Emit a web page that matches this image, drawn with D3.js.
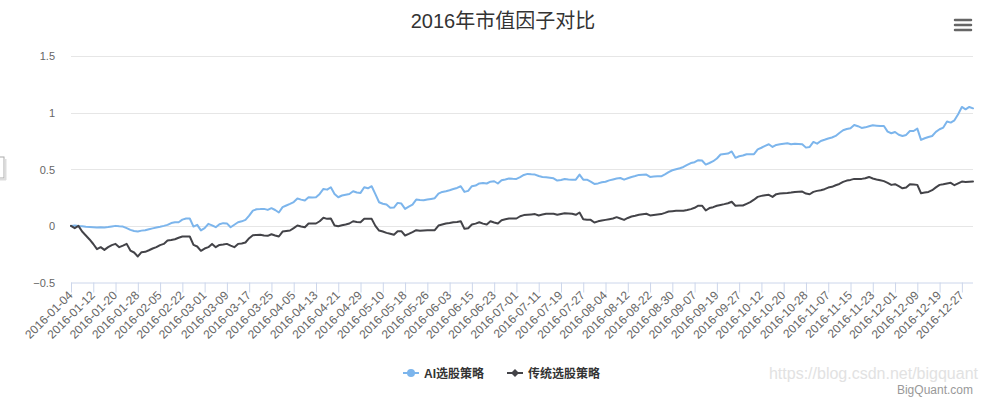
<!DOCTYPE html>
<html><head><meta charset="utf-8">
<script src="https://cdn.jsdelivr.net/npm/d3@7"></script>
<style>
body{margin:0;background:#fff;}
svg{display:block;font-family:"Liberation Sans",Arial,"Noto Sans CJK SC",sans-serif;}
</style>
</head><body>
<svg id="chart" width="987" height="400"></svg>
<script>
const chartTitle = "2016年市值因子对比";
const seriesNames = ["AI选股策略", "传统选股策略"];
const seriesColors = ["#7cb5ec", "#434348"];
const yTicks = [-0.5, 0, 0.5, 1, 1.5];
const yTickLabels = ["−0.5", "0", "0.5", "1", "1.5"];
const creditText = "BigQuant.com";
const watermarkText = "https://blog.csdn.net/bigquant";

const dates = [
"2016-01-04","2016-01-05","2016-01-06","2016-01-07","2016-01-08","2016-01-11","2016-01-12","2016-01-13","2016-01-14","2016-01-15",
"2016-01-18","2016-01-19","2016-01-20","2016-01-21","2016-01-22","2016-01-25","2016-01-26","2016-01-27","2016-01-28","2016-01-29",
"2016-02-01","2016-02-02","2016-02-03","2016-02-04","2016-02-05","2016-02-15","2016-02-16","2016-02-17","2016-02-18","2016-02-19",
"2016-02-22","2016-02-23","2016-02-24","2016-02-25","2016-02-26","2016-02-29","2016-03-01","2016-03-02","2016-03-03","2016-03-04",
"2016-03-07","2016-03-08","2016-03-09","2016-03-10","2016-03-11","2016-03-14","2016-03-15","2016-03-16","2016-03-17","2016-03-18",
"2016-03-21","2016-03-22","2016-03-23","2016-03-24","2016-03-25","2016-03-28","2016-03-29","2016-03-30","2016-03-31","2016-04-01",
"2016-04-05","2016-04-06","2016-04-07","2016-04-08","2016-04-11","2016-04-12","2016-04-13","2016-04-14","2016-04-15","2016-04-18",
"2016-04-19","2016-04-20","2016-04-21","2016-04-22","2016-04-25","2016-04-26","2016-04-27","2016-04-28","2016-04-29","2016-05-03",
"2016-05-04","2016-05-05","2016-05-06","2016-05-09","2016-05-10","2016-05-11","2016-05-12","2016-05-13","2016-05-16","2016-05-17",
"2016-05-18","2016-05-19","2016-05-20","2016-05-23","2016-05-24","2016-05-25","2016-05-26","2016-05-27","2016-05-30","2016-05-31",
"2016-06-01","2016-06-02","2016-06-03","2016-06-06","2016-06-07","2016-06-08","2016-06-13","2016-06-14","2016-06-15","2016-06-16",
"2016-06-17","2016-06-20","2016-06-21","2016-06-22","2016-06-23","2016-06-24","2016-06-27","2016-06-28","2016-06-29","2016-06-30",
"2016-07-01","2016-07-04","2016-07-05","2016-07-06","2016-07-07","2016-07-08","2016-07-11","2016-07-12","2016-07-13","2016-07-14",
"2016-07-15","2016-07-18","2016-07-19","2016-07-20","2016-07-21","2016-07-22","2016-07-25","2016-07-26","2016-07-27","2016-07-28",
"2016-07-29","2016-08-01","2016-08-02","2016-08-03","2016-08-04","2016-08-05","2016-08-08","2016-08-09","2016-08-10","2016-08-11",
"2016-08-12","2016-08-15","2016-08-16","2016-08-17","2016-08-18","2016-08-19","2016-08-22","2016-08-23","2016-08-24","2016-08-25",
"2016-08-26","2016-08-29","2016-08-30","2016-08-31","2016-09-01","2016-09-02","2016-09-05","2016-09-06","2016-09-07","2016-09-08",
"2016-09-09","2016-09-12","2016-09-13","2016-09-14","2016-09-19","2016-09-20","2016-09-21","2016-09-22","2016-09-23","2016-09-26",
"2016-09-27","2016-09-28","2016-09-29","2016-09-30","2016-10-10","2016-10-11","2016-10-12","2016-10-13","2016-10-14","2016-10-17",
"2016-10-18","2016-10-19","2016-10-20","2016-10-21","2016-10-24","2016-10-25","2016-10-26","2016-10-27","2016-10-28","2016-10-31",
"2016-11-01","2016-11-02","2016-11-03","2016-11-04","2016-11-07","2016-11-08","2016-11-09","2016-11-10","2016-11-11","2016-11-14",
"2016-11-15","2016-11-16","2016-11-17","2016-11-18","2016-11-21","2016-11-22","2016-11-23","2016-11-24","2016-11-25","2016-11-28",
"2016-11-29","2016-11-30","2016-12-01","2016-12-02","2016-12-05","2016-12-06","2016-12-07","2016-12-08","2016-12-09","2016-12-12",
"2016-12-13","2016-12-14","2016-12-15","2016-12-16","2016-12-19","2016-12-20","2016-12-21","2016-12-22","2016-12-23","2016-12-26",
"2016-12-27","2016-12-28","2016-12-29","2016-12-30"
];

const aiValues = [
0, 0.004, -0.002, -0.004, -0.008, -0.01, -0.012, -0.015, -0.013, -0.014,
-0.01, -0.005, 0.0, -0.004, -0.006, -0.02, -0.035, -0.045, -0.05, -0.042,
-0.038, -0.03, -0.022, -0.015, -0.008, 0.0, 0.009, 0.025, 0.032, 0.032,
0.055, 0.065, 0.065, -0.006, 0.009, -0.04, -0.02, 0.018, 0.005, -0.012,
0.015, 0.024, 0.022, -0.012, 0.01, 0.032, 0.04, 0.053, 0.09, 0.135,
0.147, 0.148, 0.15, 0.141, 0.156, 0.14, 0.118, 0.165, 0.18, 0.194,
0.21, 0.241, 0.232, 0.224, 0.253, 0.25, 0.253, 0.282, 0.326, 0.32,
0.341, 0.282, 0.253, 0.268, 0.275, 0.282, 0.306, 0.295, 0.291, 0.341,
0.332, 0.35, 0.28, 0.209, 0.195, 0.188, 0.159, 0.162, 0.203, 0.197,
0.15, 0.17, 0.188, 0.232, 0.228, 0.226, 0.232, 0.238, 0.244, 0.285,
0.30, 0.306, 0.315, 0.326, 0.335, 0.35, 0.30, 0.309, 0.35, 0.356,
0.375, 0.379, 0.374, 0.39, 0.394, 0.374, 0.403, 0.41, 0.418, 0.416,
0.415, 0.43, 0.45, 0.459, 0.455, 0.453, 0.44, 0.432, 0.429, 0.425,
0.42, 0.40, 0.405, 0.414, 0.41, 0.408, 0.408, 0.453, 0.408, 0.408,
0.39, 0.37, 0.375, 0.385, 0.39, 0.402, 0.41, 0.418, 0.423, 0.408,
0.42, 0.432, 0.44, 0.45, 0.452, 0.453, 0.432, 0.435, 0.438, 0.438,
0.455, 0.475, 0.491, 0.5, 0.509, 0.52, 0.538, 0.555, 0.562, 0.58,
0.577, 0.541, 0.555, 0.571, 0.595, 0.63, 0.635, 0.639, 0.657, 0.601,
0.615, 0.621, 0.633, 0.633, 0.633, 0.676, 0.69, 0.706, 0.721, 0.697,
0.715, 0.721, 0.725, 0.729, 0.721, 0.726, 0.724, 0.721, 0.691, 0.697,
0.741, 0.726, 0.75, 0.76, 0.771, 0.78, 0.794, 0.82, 0.844, 0.855,
0.862, 0.891, 0.88, 0.865, 0.87, 0.88, 0.888, 0.885, 0.882, 0.882,
0.832, 0.818, 0.829, 0.805, 0.794, 0.803, 0.838, 0.838, 0.859, 0.759,
0.774, 0.785, 0.794, 0.83, 0.853, 0.868, 0.921, 0.912, 0.932, 0.985,
1.05, 1.029, 1.05, 1.038
];

const tradValues = [
0, -0.02, 0.0, -0.05, -0.085, -0.12, -0.16, -0.206, -0.188, -0.212,
-0.188, -0.17, -0.159, -0.188, -0.175, -0.159, -0.218, -0.235, -0.27, -0.232,
-0.229, -0.215, -0.2, -0.188, -0.17, -0.159, -0.13, -0.125, -0.118, -0.105,
-0.094, -0.094, -0.094, -0.168, -0.182, -0.22, -0.2, -0.188, -0.159, -0.188,
-0.168, -0.165, -0.159, -0.175, -0.188, -0.159, -0.155, -0.147, -0.109, -0.082,
-0.08, -0.079, -0.085, -0.088, -0.074, -0.085, -0.094, -0.05, -0.045, -0.041,
-0.02, 0.003, -0.005, -0.012, 0.021, 0.021, 0.021, 0.041, 0.071, 0.062,
0.065, 0.003, -0.003, 0.005, 0.012, 0.021, 0.041, 0.035, 0.032, 0.062,
0.062, 0.062, 0.0, -0.041, -0.05, -0.062, -0.07, -0.079, -0.047, -0.047,
-0.085, -0.071, -0.055, -0.038, -0.044, -0.04, -0.038, -0.038, -0.038, 0.003,
0.012, 0.021, 0.025, 0.032, 0.035, 0.041, -0.026, -0.021, 0.012, 0.02,
0.032, 0.02, 0.012, 0.041, 0.03, 0.021, 0.05, 0.058, 0.065, 0.065,
0.065, 0.085, 0.095, 0.098, 0.101, 0.104, 0.092, 0.1, 0.107, 0.107,
0.107, 0.098, 0.105, 0.112, 0.11, 0.107, 0.098, 0.118, 0.059, 0.055,
0.053, 0.03, 0.04, 0.047, 0.053, 0.059, 0.065, 0.077, 0.065, 0.053,
0.07, 0.083, 0.09, 0.098, 0.103, 0.107, 0.092, 0.097, 0.101, 0.104,
0.115, 0.127, 0.13, 0.133, 0.133, 0.133, 0.14, 0.148, 0.16, 0.178,
0.178, 0.136, 0.157, 0.165, 0.178, 0.185, 0.192, 0.2, 0.213, 0.178,
0.18, 0.18, 0.195, 0.21, 0.231, 0.256, 0.265, 0.271, 0.274, 0.256,
0.28, 0.285, 0.288, 0.29, 0.294, 0.30, 0.302, 0.303, 0.285, 0.279,
0.3, 0.309, 0.315, 0.324, 0.338, 0.345, 0.359, 0.37, 0.388, 0.4,
0.406, 0.415, 0.415, 0.415, 0.42, 0.432, 0.418, 0.41, 0.403, 0.395,
0.38, 0.362, 0.368, 0.35, 0.332, 0.338, 0.368, 0.365, 0.362, 0.288,
0.294, 0.3, 0.315, 0.34, 0.362, 0.368, 0.375, 0.38, 0.359, 0.375,
0.391, 0.388, 0.39, 0.391
];

const svg = d3.select("#chart");
const plot = {left: 71, right: 973, top: 56, bottom: 282.5};

const x = d3.scaleLinear().domain([0, dates.length - 1]).range([plot.left, plot.right]);
const y = d3.scaleLinear().domain([-0.5, 1.5]).range([plot.bottom, plot.top]);

// left artifact (edge of a popup box)
svg.append("rect").attr("x", -6).attr("y", 157).attr("width", 10).attr("height", 21)
  .attr("fill", "#fff").attr("stroke", "#aaa").attr("stroke-width", 1);
svg.append("line").attr("x1", 5.5).attr("x2", 5.5).attr("y1", 159).attr("y2", 180)
  .attr("stroke", "#ddd").attr("stroke-width", 2);
svg.append("line").attr("x1", 0).attr("x2", 6).attr("y1", 179.5).attr("y2", 179.5)
  .attr("stroke", "#ddd").attr("stroke-width", 2);

// gridlines
svg.append("g").selectAll("line").data(yTicks.filter(v => v !== -0.5)).join("line")
  .attr("x1", plot.left).attr("x2", plot.right)
  .attr("y1", d => Math.round(y(d)) + 0.5).attr("y2", d => Math.round(y(d)) + 0.5)
  .attr("stroke", "#e6e6e6").attr("stroke-width", 1);

// y axis labels
const yAxis = d3.axisLeft(y).tickValues(yTicks).tickSize(0).tickPadding(0)
  .tickFormat((d, i) => yTickLabels[yTicks.indexOf(d)]);
const gy = svg.append("g").attr("transform", "translate(55,0)").call(yAxis);
gy.select(".domain").remove();
gy.selectAll("text").attr("fill", "#666666").attr("font-size", "11px")
  .attr("font-family", "'Liberation Sans', Arial, sans-serif").attr("dy", "0.35em");

// x axis
const tickIdx = d3.range(0, dates.length, 6);
const xAxis = d3.axisBottom(x).tickValues(tickIdx).tickSize(10).tickSizeOuter(0)
  .tickFormat(d => dates[d]);
const gx = svg.append("g").attr("transform", `translate(0,${plot.bottom})`).call(xAxis);
gx.select(".domain").attr("stroke", "#ccd6eb").attr("d", `M${plot.left},0.5H${plot.right}`);
gx.selectAll(".tick line").attr("stroke", "#ccd6eb");
gx.selectAll(".tick text")
  .attr("x", 0).attr("y", 0).attr("dy", 0)
  .attr("transform", "translate(2,13.5) rotate(-45)")
  .attr("text-anchor", "end")
  .attr("fill", "#666666").attr("font-size", "12px")
  .attr("font-family", "'Liberation Sans', Arial, sans-serif");

// lines
const line = d3.line().x((d, i) => x(i)).y(d => y(d)).curve(d3.curveLinear);
[aiValues, tradValues].forEach((vals, k) => {
  svg.append("path").datum(vals).attr("d", line)
    .attr("fill", "none").attr("stroke", seriesColors[k]).attr("stroke-width", 2)
    .attr("stroke-linejoin", "round").attr("stroke-linecap", "round");
});

// title
svg.append("text").attr("x", 503).attr("y", 28).attr("text-anchor", "middle")
  .attr("font-size", "20px").attr("fill", "#333333")
  .attr("font-family", "'Liberation Sans', 'Noto Sans CJK SC', sans-serif")
  .text(chartTitle);

// menu icon
svg.append("g").selectAll("line").data([20, 25, 30]).join("line")
  .attr("x1", 955).attr("x2", 971).attr("y1", d => d).attr("y2", d => d)
  .attr("stroke", "#666666").attr("stroke-width", 2.5).attr("stroke-linecap", "round");

// legend
const legendItems = [{x: 403, sym: "circle"}, {x: 507, sym: "diamond"}];
legendItems.forEach((it, k) => {
  const g = svg.append("g").attr("transform", `translate(${it.x},373)`);
  g.append("line").attr("x1", 0).attr("x2", 16).attr("y1", 0).attr("y2", 0)
    .attr("stroke", seriesColors[k]).attr("stroke-width", 2);
  if (it.sym === "circle") {
    g.append("circle").attr("cx", 8).attr("cy", 0).attr("r", 4).attr("fill", seriesColors[k]);
  } else {
    g.append("path").attr("d", "M8,-4L12,0L8,4L4,0Z").attr("fill", seriesColors[k]);
  }
  g.append("text").attr("x", 21).attr("y", 5).attr("font-size", "12px")
    .attr("font-weight", "bold").attr("fill", "#333333")
    .attr("font-family", "'Liberation Sans', 'Noto Sans CJK SC', sans-serif")
    .text(seriesNames[k]);
});

// watermark
svg.append("text").attr("x", 978).attr("y", 379).attr("text-anchor", "end")
  .attr("font-size", "16px").attr("fill", "#e2e2e2")
  .attr("font-family", "'Liberation Sans', Arial, sans-serif")
  .text(watermarkText);

// credits
svg.append("text").attr("x", 973).attr("y", 394).attr("text-anchor", "end")
  .attr("font-size", "12px").attr("fill", "#999999")
  .attr("font-family", "'Liberation Sans', Arial, sans-serif")
  .text(creditText);
</script>
</body></html>
